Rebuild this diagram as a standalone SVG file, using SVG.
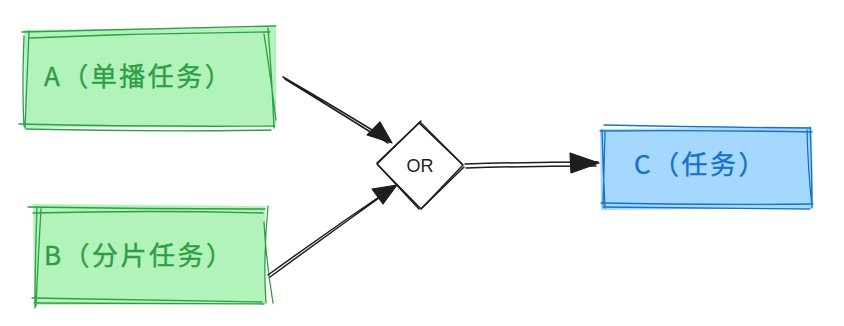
<svg xmlns="http://www.w3.org/2000/svg" width="844" height="326" viewBox="0 0 844 326">
<style>
.g{fill:#b2f2bb;stroke:none}
.gs{fill:none;stroke:#2f9e44;stroke-width:1.3;stroke-linecap:round}
.b{fill:#a5d8ff;stroke:none}
.bs{fill:none;stroke:#1971c2;stroke-width:1.3;stroke-linecap:round}
.tg{font-family:"Comic Sans MS","Noto Sans CJK SC",sans-serif;font-size:26px;letter-spacing:2.5px;fill:#2f9e44;stroke:#2f9e44;stroke-width:0.4}
.tb{font-family:"Comic Sans MS","Noto Sans CJK SC",sans-serif;font-size:26px;letter-spacing:2.5px;fill:#1971c2;stroke:#1971c2;stroke-width:0.4}
.c{fill:none;stroke:#1e1e1e;stroke-width:1.5;stroke-linecap:round}
.ah{fill:#1e1e1e;stroke:#1e1e1e;stroke-width:1.2;stroke-linejoin:round}
</style>
<rect width="844" height="326" fill="#ffffff"/>
<g id="nodeA">
<path class="g" d="M24 30 L276 27 L276 125 L25 128 Z"/>
<path class="gs" d="M22 32 Q150 29 276 26 M30 38 Q150 33 270 32 M29 31 Q27 80 25 128 M24 36 Q22 90 24 126 M268 28 Q272 80 274 128 M264 34 Q271 80 276 120 M19 124 Q150 127 275 126 M26 129 Q150 132 271 130"/>
<text class="tg" x="44" y="86">A（单播任务）</text>
</g>
<g id="nodeB">
<path class="g" d="M33 204 L265 206 L265 304 L34 305 Z"/>
<path class="gs" d="M28 207 Q150 209 265 209 M33 213 Q150 210 263 213 M37 207 Q35 260 35 308 M41 209 Q38 260 36 306 M268 206 Q263 260 266 303 M264 222 Q266 260 273 303 M32 298 Q150 300 262 302 M34 303 Q150 303 264 304"/>
<text class="tg" x="44" y="265">B（分片任务）</text>
</g>
<g id="nodeOR">
<path d="M420 122 L463 165 L421 209 L377 164 Z" fill="#ffffff" stroke="#1e1e1e" stroke-width="1.5" stroke-linejoin="round"/>
<path class="c" d="M419 123 L462 164 M464 167 L422 208 M419 209 L378 165 M377 163 L421 121" stroke-width="1"/>
<text x="420" y="172" font-family="Comic Sans MS, sans-serif" font-size="18" fill="#1e1e1e" text-anchor="middle">OR</text>
</g>
<g id="nodeC">
<path class="b" d="M600 129 L812 127 L813 208 L601 210 Z"/>
<path class="bs" d="M604 125 Q700 127 810 128 M600 131 Q700 130 812 132 M602 130 Q603 170 605 208 M605 132 Q604 170 603 205 M810 127 Q812 170 812 208 M807 130 Q808 170 812 206 M601 203 Q700 205 813 204 M603 207 Q700 208 810 209"/>
<text class="tb" x="634" y="174">C（任务）</text>
</g>
<g id="connectors">
<path class="c" d="M283 77 Q340 110 390 141 M285 79 Q345 116 388 143"/>
<path class="ah" d="M392 143 L367 135 L380 122 Z"/>
<path class="c" d="M268 275 Q330 230 395 186 M270 277 Q330 233 393 188"/>
<path class="ah" d="M397 185 L383 204 L372 189 Z"/>
<path class="c" d="M465 164 Q530 162 598 162 M466 168 Q530 166 596 166"/>
<path class="ah" d="M599 163 L571 173 L570 153 Z"/>
</g>
</svg>
